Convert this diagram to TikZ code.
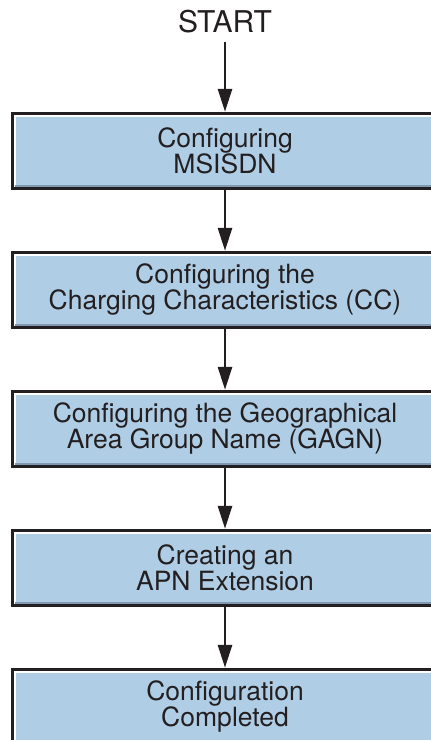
\documentclass[tikz,border=0pt]{standalone}
\usepackage{fontspec}
\setmainfont{TeX Gyre Heros}
\usetikzlibrary{positioning, arrows.meta}
\definecolor{boxfill}{RGB}{176,205,230}
\definecolor{boxline}{RGB}{35,31,32}
\definecolor{boxshade}{RGB}{128,152,176}

\begin{document}
\begin{tikzpicture}[
    x=1pt, y=-1pt,
    stepbox/.style={
      font=\fontsize{26.5}{26}\selectfont, align=center, text=boxline,
      draw=boxline, fill=boxfill, line width=3pt, rectangle,
      minimum width=426pt, minimum height=75pt, inner sep=0pt,
      path picture={
        \draw[white, line width=2pt]
          ([xshift=2.5pt]path picture bounding box.south west)
          -- ([xshift=2.5pt, yshift=-2.5pt]path picture bounding box.north west)
          -- ([yshift=-2.5pt]path picture bounding box.north east);
        \draw[boxshade, line width=2pt]
          ([xshift=2.5pt, yshift=2.5pt]path picture bounding box.south west)
          -- ([yshift=2.5pt]path picture bounding box.south east);
      },
    },
    flow/.style={-{Triangle[length=23pt, width=14pt]}, line width=2.7pt, boxline},
    node distance=61pt,
]
\clip (0,0) rectangle (431,740);

\node[font=\fontsize{30}{30}\selectfont, text=boxline] (start) at (225,22) {START};

\node[stepbox] (msisdn) at (225,150.8) {Configuring\\MSISDN};
\node[stepbox, below=of msisdn] (cc) {Configuring the\\Charging Characteristics (CC)};
\node[stepbox, below=of cc] (gagn) {Configuring the Geographical\\Area Group Name (GAGN)};
\node[stepbox, below=of gagn] (apn) {Creating an\\APN Extension};
\node[stepbox, below=of apn] (done) {Configuration\\Completed};

\draw[flow, shorten <=5pt] (start) -- (msisdn);
\draw[flow] (msisdn) -- (cc);
\draw[flow] (cc) -- (gagn);
\draw[flow] (gagn) -- (apn);
\draw[flow] (apn) -- (done);

\end{tikzpicture}
\end{document}
